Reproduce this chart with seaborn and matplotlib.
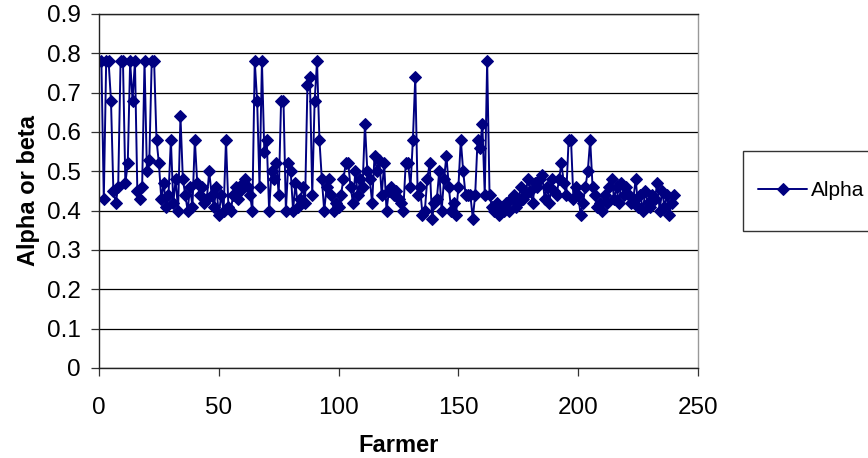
import numpy as np
import pandas as pd
import matplotlib
matplotlib.use("Agg")
import matplotlib.pyplot as plt
from matplotlib.patches import Rectangle
import seaborn as sns

series_name = "Alpha"
x_label = "Farmer"
y_label = "Alpha or beta"
x_ticks = [0, 50, 100, 150, 200, 250]
y_ticks = [0, 0.1, 0.2, 0.3, 0.4, 0.5, 0.6, 0.7, 0.8, 0.9]
y_tick_labels = ["0", "0.1", "0.2", "0.3", "0.4", "0.5", "0.6", "0.7", "0.8", "0.9"]

alpha_values = [
    0.78, 0.43, 0.78, 0.78, 0.68, 0.45, 0.42, 0.46, 0.78, 0.78,
    0.47, 0.52, 0.78, 0.68, 0.78, 0.45, 0.43, 0.46, 0.78, 0.50,
    0.53, 0.78, 0.78, 0.58, 0.52, 0.43, 0.47, 0.41, 0.44, 0.58,
    0.42, 0.48, 0.40, 0.64, 0.48, 0.44, 0.40, 0.46, 0.41, 0.58,
    0.47, 0.44, 0.46, 0.42, 0.43, 0.50, 0.44, 0.41, 0.46, 0.39,
    0.44, 0.40, 0.58, 0.41, 0.40, 0.44, 0.46, 0.43, 0.45, 0.47,
    0.48, 0.46, 0.44, 0.40, 0.78, 0.68, 0.46, 0.78, 0.55, 0.58,
    0.40, 0.50, 0.48, 0.52, 0.44, 0.68, 0.68, 0.40, 0.52, 0.50,
    0.40, 0.47, 0.41, 0.43, 0.46, 0.42, 0.72, 0.74, 0.44, 0.68,
    0.78, 0.58, 0.48, 0.40, 0.46, 0.48, 0.44, 0.40, 0.42, 0.41,
    0.44, 0.48, 0.52, 0.52, 0.46, 0.42, 0.50, 0.44, 0.48, 0.46,
    0.62, 0.50, 0.48, 0.42, 0.54, 0.50, 0.53, 0.44, 0.52, 0.40,
    0.45, 0.46, 0.44, 0.45, 0.43, 0.42, 0.40, 0.52, 0.52, 0.46,
    0.58, 0.74, 0.44, 0.46, 0.39, 0.40, 0.48, 0.52, 0.38, 0.42,
    0.43, 0.50, 0.40, 0.48, 0.54, 0.46, 0.40, 0.42, 0.39, 0.46,
    0.58, 0.50, 0.44, 0.44, 0.44, 0.38, 0.44, 0.58, 0.56, 0.62,
    0.44, 0.78, 0.44, 0.41, 0.40, 0.42, 0.39, 0.41, 0.40, 0.42,
    0.40, 0.43, 0.44, 0.41, 0.42, 0.46, 0.43, 0.44, 0.48, 0.45,
    0.42, 0.47, 0.46, 0.48, 0.49, 0.43, 0.46, 0.42, 0.48, 0.45,
    0.44, 0.48, 0.52, 0.47, 0.44, 0.58, 0.58, 0.43, 0.46, 0.44,
    0.39, 0.42, 0.46, 0.50, 0.58, 0.46, 0.44, 0.41, 0.42, 0.40,
    0.44, 0.42, 0.46, 0.48, 0.43, 0.46, 0.42, 0.47, 0.44, 0.46,
    0.44, 0.42, 0.43, 0.48, 0.41, 0.44, 0.40, 0.45, 0.42, 0.41,
    0.44, 0.43, 0.47, 0.40, 0.45, 0.41, 0.44, 0.39, 0.42, 0.44,
]
farmers = list(range(1, len(alpha_values) + 1))

df = pd.DataFrame({"Farmer": farmers, "Alpha": alpha_values})

sns.set_style("white")
plt.rcParams["font.family"] = ["Liberation Sans", "DejaVu Sans"]
plt.rcParams["text.color"] = "black"
plt.rcParams["axes.labelcolor"] = "black"
plt.rcParams["xtick.color"] = "black"
plt.rcParams["ytick.color"] = "black"

W, H = 868, 458
fig = plt.figure(figsize=(W / 100, H / 100), dpi=100)
fig.patch.set_facecolor("white")
ax = fig.add_axes([99 / W, 1 - 368 / H, (698 - 99) / W, (368 - 14) / H])

navy = "#000080"
sns.lineplot(data=df, x="Farmer", y="Alpha", ax=ax, color=navy, linewidth=1.4,
             marker="D", markersize=6.0, markeredgecolor=navy, markerfacecolor=navy,
             label=series_name, legend=False)

ax.set_xlim(0, 250)
ax.set_ylim(0, 0.9)
ax.set_xticks(x_ticks)
ax.set_xticklabels([str(t) for t in x_ticks], fontsize=17.5)
ax.set_yticks(y_ticks)
ax.set_yticklabels(y_tick_labels, fontsize=17.5)
ax.yaxis.grid(True, color="black", linewidth=0.9)
ax.xaxis.grid(False)
ax.set_axisbelow(True)
ax.tick_params(axis="both", direction="out", length=6, width=0.9, color="#333333",
               labelcolor="black", left=True, bottom=True)
ax.tick_params(axis="x", pad=15)
ax.tick_params(axis="y", pad=7)
for side in ["left", "bottom", "top"]:
    ax.spines[side].set_color("#222222")
    ax.spines[side].set_linewidth(1.0)
ax.spines["right"].set_color("#999999")
ax.spines["right"].set_linewidth(1.0)

ax.set_xlabel(x_label, fontsize=17, fontweight="bold", labelpad=11, color="black")
ax.set_ylabel(y_label, fontsize=17, fontweight="bold", labelpad=5, color="black")

# legend box (extends beyond the right edge, as in the reference)
fig.patches.append(Rectangle((743 / W, 1 - 231 / H), 200 / W, 80 / H,
                             transform=fig.transFigure, facecolor="white",
                             edgecolor="#333333", linewidth=1.0))
handles, labels = ax.get_legend_handles_labels()
leg = fig.legend(handles, labels, loc="center left",
                 bbox_to_anchor=(754 / W, 1 - 191 / H), frameon=False,
                 fontsize=15, handlelength=2.35, handletextpad=0.2,
                 borderpad=0.0, borderaxespad=0.2, labelcolor="black")
for line in leg.get_lines():
    line.set_markersize(6)

fig.savefig("out.png", dpi=100, facecolor="white")
